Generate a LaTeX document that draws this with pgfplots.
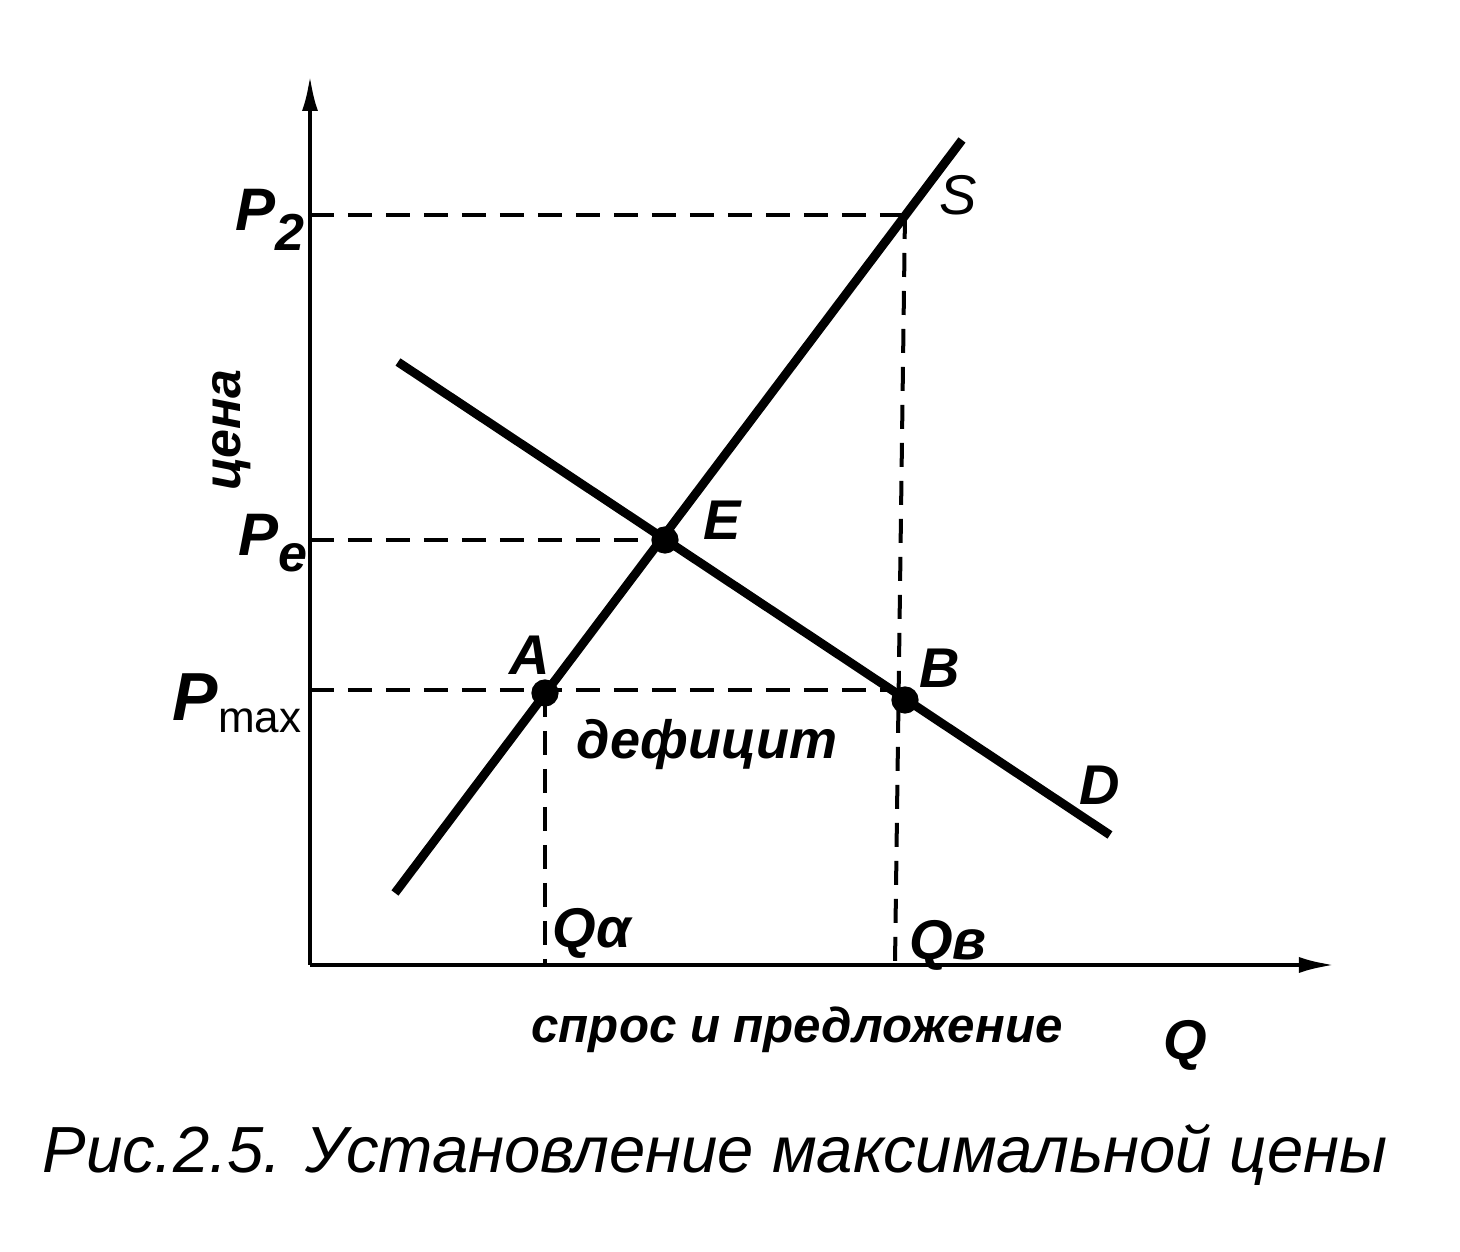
\documentclass[border=0pt]{standalone}
\usepackage{pgfplots}
\pgfplotsset{compat=1.18}
\usetikzlibrary{arrows.meta}
\usepackage{fontspec}
\setmainfont{Liberation Sans}
\begin{document}
\begin{tikzpicture}
\begin{axis}[
  x=0.25pt, y=0.25pt,
  xmin=0, xmax=1025, ymin=0, ymax=890,
  axis lines=left,
  axis line style={line width=1.1pt, -{Latex[length=9pt,width=4pt]}},
  xtick=\empty, ytick=\empty,
  clip=false,
]
% bounding box matching reference
\path (axis cs:-310,965) rectangle (axis cs:1150,-287);
% dashed guide lines
\addplot[black, line width=1pt, dash pattern=on 6pt off 3.5pt] coordinates {(0,750) (595,750)};
\addplot[black, line width=1pt, dash pattern=on 6pt off 3.5pt] coordinates {(595,750) (585,0)};
\addplot[black, line width=1pt, dash pattern=on 6pt off 3.5pt] coordinates {(0,425) (355,425)};
\addplot[black, line width=1pt, dash pattern=on 6pt off 3.5pt] coordinates {(0,275) (595,275)};
\addplot[black, line width=1pt, dash pattern=on 6pt off 3.5pt] coordinates {(235,272) (235,0)};
% supply
\addplot[black, line width=2.2pt] coordinates {(85,72) (652,825)};
% demand
\addplot[black, line width=2.2pt] coordinates {(88,603) (800,130)};
% points
\addplot[only marks, mark=*, mark size=3.2pt, black] coordinates {(355,425) (235,272) (595,265)};
% labels
\node[font=\fontsize{15}{18}\selectfont\bfseries\itshape] at (axis cs:-40,745) {P\raisebox{-5pt}{\fontsize{13}{15}\selectfont 2}};
\node[font=\fontsize{15}{18}\selectfont\bfseries\itshape] at (axis cs:-37,422) {P\raisebox{-4pt}{\fontsize{13}{15}\selectfont e}};
\node[anchor=east, inner sep=0pt] at (axis cs:-8,262) {{\fontsize{17}{20}\selectfont\bfseries\itshape P}{\fontsize{11}{13}\selectfont\raisebox{-3pt}{max}}};
\node[rotate=90, font=\fontsize{13}{16}\selectfont\bfseries\itshape] at (axis cs:-78,535) {цена};
\node[font=\fontsize{14}{17}\selectfont\itshape] at (axis cs:648,770) {S};
\node[font=\fontsize{14}{17}\selectfont\bfseries\itshape] at (axis cs:412,445) {E};
\node[font=\fontsize{14}{17}\selectfont\bfseries\itshape] at (axis cs:220,310) {A};
\node[font=\fontsize{14}{17}\selectfont\bfseries\itshape] at (axis cs:630,297) {B};
\node[font=\fontsize{14}{17}\selectfont\bfseries\itshape] at (axis cs:790,180) {D};
\node[font=\fontsize{13.5}{16}\selectfont\bfseries\itshape] at (axis cs:397,220) {дефицит};
\node[font=\fontsize{14}{16}\selectfont\bfseries\itshape] at (axis cs:282,32) {Qα};
\node[font=\fontsize{14}{16}\selectfont\bfseries\itshape] at (axis cs:638,20) {Qв};
\node[font=\fontsize{12.3}{15}\selectfont\bfseries\itshape] at (axis cs:487,-65) {спрос и предложение};
\node[font=\fontsize{14}{17}\selectfont\bfseries\itshape] at (axis cs:875,-80) {Q};
\node[font=\fontsize{16.3}{20}\selectfont\itshape] at (axis cs:405,-190) {Рис.2.5. Установление максимальной цены};
\end{axis}
\end{tikzpicture}
\end{document}
